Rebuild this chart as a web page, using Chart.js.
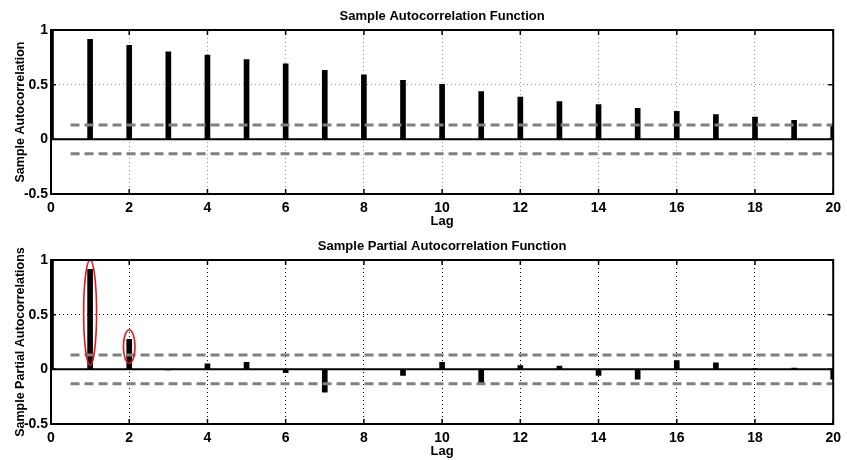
<!DOCTYPE html>
<html>
<head>
<meta charset="utf-8">
<script src="https://cdn.jsdelivr.net/npm/chart.js@4.4.1/dist/chart.umd.min.js"></script>
<style>
    body { margin: 0; background: #fff; }
    .panel { position: absolute; left: 0; width: 847px; height: 230px; }
</style>
</head>
<body>
<div class="panel" style="top:0"><canvas id="acfChart"></canvas></div>
<div class="panel" style="top:230px"><canvas id="pacfChart"></canvas></div>
<script>
// lags 0..20 and the values
const lags = [0, 1, 2, 3, 4, 5, 6, 7, 8, 9, 10, 11, 12, 13, 14, 15, 16, 17, 18, 19, 20];
const acfValues = [1, 0.915, 0.86, 0.80, 0.77, 0.73, 0.69, 0.63, 0.59, 0.54, 0.503,
    0.436, 0.387, 0.345, 0.317, 0.284, 0.256, 0.226, 0.204, 0.174, 0.12];
const pacfValues = [1, 0.915, 0.275, -0.005, 0.05, 0.065, -0.03, -0.21, 0.0, -0.055, 0.065,
    -0.14, 0.035, 0.03, -0.055, -0.09, 0.08, 0.06, 0.002, 0.012, -0.09];
const confBound = 0.131;
const boundStart = 0.5;
const xTicks = [0, 2, 4, 6, 8, 10, 12, 14, 16, 18, 20];
const yTicks = [-0.5, 0, 0.5, 1];
// red rings drawn round the first two partial autocorrelations
const circledLags = [1, 2];
const circledLow = [0.037, 0.055];
const circledHigh = [1.0, 0.36];
const circledHalfWidth = [0.165, 0.148];

const FONT = "'Liberation Sans', Arial, Helvetica, sans-serif";

// MATLAB style box, inside ticks, title and the red ellipses
const matlabAxes = {
    id: 'matlabAxes',
    afterDatasetsDraw(chart, args, opts) {
        const { ctx, chartArea: a, scales: { x, y } } = chart;
        ctx.save();

        if (opts.rings) {
            ctx.strokeStyle = '#e8141a';
            ctx.lineWidth = 1.6;
            circledLags.forEach((lag, i) => {
                const cx = x.getPixelForValue(lag);
                const rx = x.getPixelForValue(lag + circledHalfWidth[i]) - cx;
                const top = y.getPixelForValue(circledHigh[i]);
                const bot = y.getPixelForValue(circledLow[i]);
                ctx.beginPath();
                ctx.ellipse(cx, (top + bot) / 2, rx, (bot - top) / 2, 0, 0, Math.PI * 2);
                ctx.stroke();
            });
        }

        ctx.strokeStyle = '#000';
        ctx.lineWidth = 2;
        ctx.strokeRect(a.left, a.top, a.width, a.height);

        ctx.lineWidth = 1.5;
        ctx.beginPath();
        xTicks.forEach(v => {
            const px = x.getPixelForValue(v);
            ctx.moveTo(px, a.top); ctx.lineTo(px, a.top + 5);
            ctx.moveTo(px, a.bottom); ctx.lineTo(px, a.bottom - 5);
        });
        yTicks.forEach(v => {
            const py = y.getPixelForValue(v);
            ctx.moveTo(a.left, py); ctx.lineTo(a.left + 5, py);
            ctx.moveTo(a.right, py); ctx.lineTo(a.right - 5, py);
        });
        ctx.stroke();

        ctx.fillStyle = '#000';
        ctx.font = 'bold 13px ' + FONT;
        ctx.textAlign = 'center';
        ctx.textBaseline = 'middle';
        ctx.fillText(opts.title, (a.left + a.right) / 2, 16);
        ctx.restore();
    }
};

function makeChart(id, values, title, yTitle, gridColor, rings) {
    const ctx = document.getElementById(id).getContext('2d');
    return new Chart(ctx, {
        type: 'bar',
        data: {
            datasets: [{
                type: 'line',
                data: [{ x: boundStart, y: confBound }, { x: 20, y: confBound }],
                borderColor: '#808080',
                borderWidth: 3,
                borderDash: [9, 5],
                pointRadius: 0,
                order: 1
            }, {
                type: 'line',
                data: [{ x: boundStart, y: -confBound }, { x: 20, y: -confBound }],
                borderColor: '#808080',
                borderWidth: 3,
                borderDash: [9, 5],
                pointRadius: 0,
                order: 1
            }, {
                type: 'line',
                data: [{ x: 0, y: 0 }, { x: 20, y: 0 }],
                borderColor: '#000',
                borderWidth: 2,
                pointRadius: 0,
                order: 0
            }, {
                data: lags.map((l, i) => ({ x: l, y: values[i] })),
                backgroundColor: '#000',
                barThickness: 5,
                order: 2
            }]
        },
        options: {
            responsive: true,
            maintainAspectRatio: false,
            animation: false,
            layout: { padding: { top: 30, right: 10, left: 0, bottom: 0 } },
            plugins: {
                legend: { display: false },
                tooltip: { enabled: false },
                matlabAxes: { title: title, rings: rings }
            },
            scales: {
                x: {
                    type: 'linear',
                    min: 0, max: 20,
                    offset: false,
                    afterFit: s => { s.height = 36; },
                    ticks: { stepSize: 2, padding: 6, color: '#000', font: { family: FONT, size: 14, weight: 'bold' }, maxRotation: 0 },
                    grid: { color: gridColor, lineWidth: 1, drawTicks: false, offset: false },
                    border: { display: false, dash: [1, 3] },
                    title: { display: true, text: 'Lag', color: '#000', font: { family: FONT, size: 13, weight: 'bold' }, padding: { top: 0, bottom: 1 } }
                },
                y: {
                    min: -0.5, max: 1,
                    afterFit: s => { s.width = 51; },
                    ticks: { stepSize: 0.5, padding: 3, color: '#000', font: { family: FONT, size: 14, weight: 'bold' },
                        callback: v => String(v) },
                    grid: { color: gridColor, lineWidth: 1, drawTicks: false },
                    border: { display: false, dash: [1, 3] },
                    title: { display: true, text: yTitle, color: '#000', font: { family: FONT, size: 12.5, weight: 'bold' }, padding: { top: 13, bottom: 0 } }
                }
            }
        },
        plugins: [matlabAxes]
    });
}

makeChart('acfChart', acfValues, 'Sample Autocorrelation Function', 'Sample Autocorrelation', '#9a9a9a', false);
makeChart('pacfChart', pacfValues, 'Sample Partial Autocorrelation Function', 'Sample Partial Autocorrelations', '#000', true);
</script>
</body>
</html>
